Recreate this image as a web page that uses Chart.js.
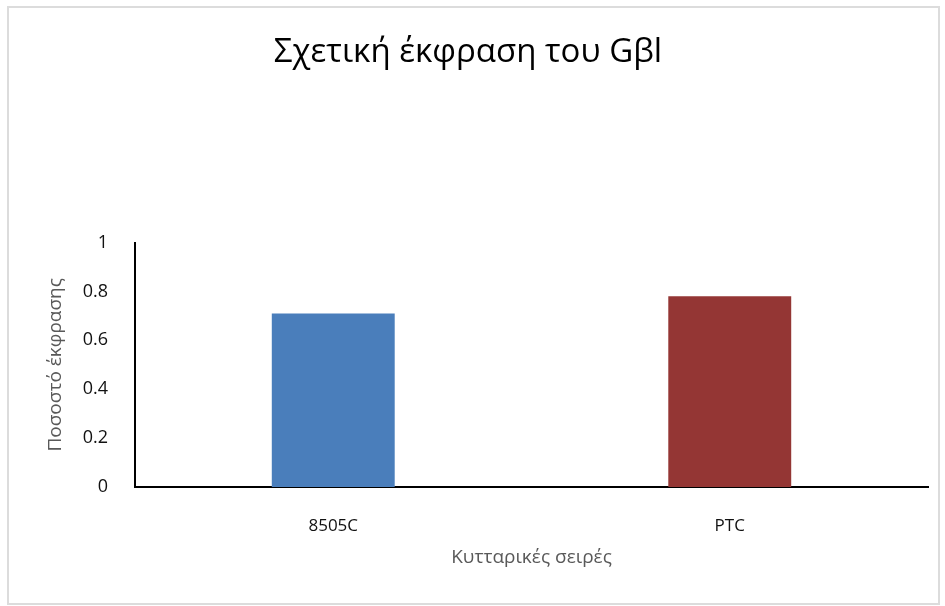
<!DOCTYPE html>
<html>
<head>
<meta charset="utf-8">
<script src="https://cdn.jsdelivr.net/npm/chart.js@4"></script>
<style>
html,body{margin:0;padding:0;background:#fff;}
#wrap{position:relative;width:945px;height:606px;}
</style>
</head>
<body>
<div id="wrap"><canvas id="chart" width="945" height="606"></canvas></div>
<script>
// ===== data =====
const CATEGORIES=['8505C','PTC'];
const VALUES=[0.71,0.78];
const BAR_COLORS=['#4A7EBB','#943634'];
const Y_MIN=0,Y_MAX=1,Y_STEP=0.2;

const FONT='"Open Sans","Noto Sans",sans-serif';

const framePlugin={
  id:'frame',
  beforeDraw(chart){
    const ctx=chart.ctx;ctx.save();
    ctx.fillStyle='#fff';ctx.fillRect(0,0,chart.width,chart.height);
    ctx.strokeStyle='#dcdcdc';ctx.lineWidth=2;
    ctx.strokeRect(8,7,931,597);
    ctx.restore();
  }
};

new Chart(document.getElementById('chart').getContext('2d'),{
  type:'bar',
  data:{labels:CATEGORIES,datasets:[{data:VALUES,backgroundColor:BAR_COLORS,borderWidth:0,categoryPercentage:1,barPercentage:0.31}]},
  options:{
    responsive:false,animation:false,
    layout:{padding:{left:8,right:17,top:0,bottom:0}},
    plugins:{
      legend:{display:false},tooltip:{enabled:false},
      title:{display:true,text:'Σχετική έκφραση του Gβl',color:'#000',font:{family:FONT,size:33,weight:'normal'},padding:{top:33,bottom:170}}
    },
    scales:{
      x:{
        grid:{display:false},border:{display:true,color:'#000',width:2},
        ticks:{color:'#111',font:{family:FONT,size:17},padding:21},
        title:{display:true,text:'Κυτταρικές σειρές',color:'#595959',font:{family:FONT,size:19},padding:{top:0,bottom:37}},
        afterFit(s){s.height=119;}
      },
      y:{
        min:Y_MIN,max:Y_MAX,
        grid:{display:false},border:{display:true,color:'#000',width:2},
        ticks:{stepSize:Y_STEP,color:'#111',font:{family:FONT,size:18},padding:19,callback:v=>String(Math.round(v*10)/10)},
        title:{display:true,text:'Ποσοστό έκφρασης',color:'#595959',font:{family:FONT,size:19},padding:{top:36,bottom:0}},
        afterFit(s){s.width=127;}
      }
    }
  },
  plugins:[framePlugin]
});
</script>
</body>
</html>
